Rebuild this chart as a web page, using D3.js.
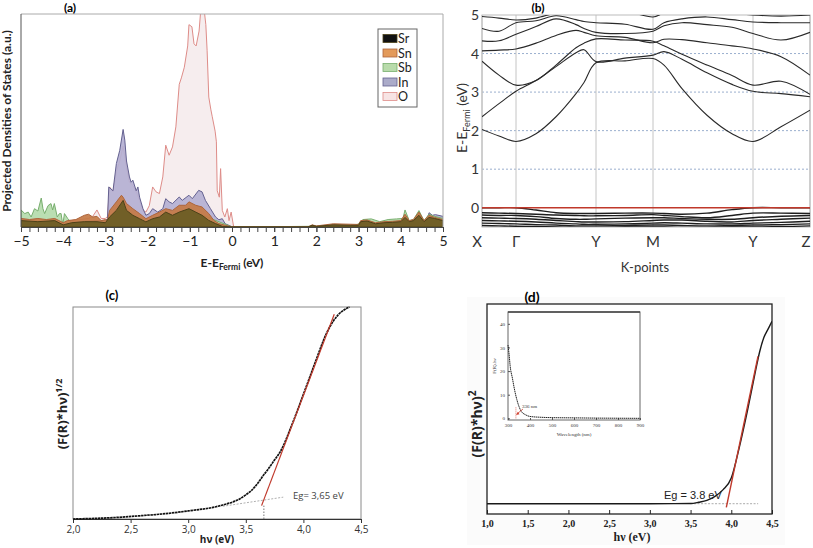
<!DOCTYPE html>
<html><head><meta charset="utf-8">
<script src="https://cdn.jsdelivr.net/npm/d3@7"></script>
<style>body{margin:0;background:#fff}svg{display:block}</style>
</head><body><svg id="c" width="813" height="548"></svg>
<script>
// ---------------- DATA ----------------
// (a) Projected DOS: [E - E_Fermi (eV), DOS (% of axis height)]
const dosO = [[-5,4],[-4.8,3.5],[-4.6,4],[-4.4,3],[-4.2,4],[-4.0,2.5],[-3.8,3],[-3.6,3.5],[-3.4,4],[-3.3,5],[-3.2,8],[-3.1,4],[-3.0,4],[-2.95,5],[-2.9,18.8],[-2.82,16.5],[-2.74,26],[-2.66,31],[-2.58,38],[-2.5,28],[-2.43,21],[-2.35,19.6],[-2.27,16.5],[-2.19,12.5],[-2.11,7.8],[-2.04,7],[-1.96,10],[-1.88,18.8],[-1.8,16.5],[-1.72,15.7],[-1.64,23.5],[-1.57,38.4],[-1.49,33.7],[-1.41,37.6],[-1.33,47],[-1.25,67],[-1.2,70],[-1.13,75],[-1.05,85],[-1.02,95],[-0.95,94],[-0.9,86],[-0.85,85],[-0.78,92],[-0.74,102],[-0.66,102],[-0.62,95],[-0.59,83],[-0.55,61],[-0.5,55],[-0.47,52],[-0.4,45],[-0.37,40],[-0.35,17],[-0.3,14],[-0.27,27.4],[-0.23,7.8],[-0.17,4.7],[-0.11,8.6],[-0.07,3],[-0.02,7],[0.04,0],[1.8,0],[1.9,0.8],[2.0,0.3],[3.0,0.5],[4.0,0.5],[5.0,0.5]];
const dosIn = [[-5,4],[-4.6,3],[-4.2,3],[-4.0,2],[-3.6,2.5],[-3.2,3],[-3.0,3],[-2.95,4],[-2.92,18.8],[-2.82,17],[-2.74,29.8],[-2.66,36],[-2.58,45.8],[-2.54,40.8],[-2.5,31],[-2.43,23.5],[-2.39,21],[-2.35,22],[-2.27,17],[-2.23,18.8],[-2.19,14],[-2.11,8.6],[-2.04,5.5],[-1.96,6.3],[-1.88,8.6],[-1.76,7],[-1.64,8.6],[-1.57,13.3],[-1.49,11.8],[-1.41,11],[-1.25,14.1],[-1.18,12.5],[-1.02,14.9],[-0.94,13.3],[-0.79,17.2],[-0.71,16.5],[-0.63,12.5],[-0.51,8.6],[-0.39,4.7],[-0.31,3.4],[-0.23,3.9],[-0.16,1.5],[-0.04,0.5],[0,0],[4.5,0],[4.6,2],[4.67,6.7],[4.75,5.5],[4.82,5.8],[5.0,5]];
const dosSb = [[-5,8],[-4.91,6.3],[-4.83,7],[-4.76,4.7],[-4.68,8.6],[-4.6,7.5],[-4.52,13.6],[-4.48,8.6],[-4.44,6.3],[-4.36,10],[-4.29,11],[-4.25,8],[-4.21,11],[-4.14,4.7],[-4.09,6.3],[-4.05,6.3],[-4.01,1],[-3.97,6.3],[-3.89,3.9],[-3.8,2],[-3.5,2.5],[-3.0,2],[-2.9,5],[-2.6,10],[-2.3,5],[-2.0,3],[-1.5,5],[-1,8],[-0.5,4],[0,0],[2.9,0.5],[3.0,1.5],[3.1,3.5],[3.3,3.8],[3.5,2.5],[3.7,3.5],[3.9,3.8],[4.05,4],[4.1,8],[4.2,3],[4.3,3.5],[4.43,7.7],[4.55,3],[4.67,6],[4.8,5],[5.0,4]];
const dosSn = [[-5,4],[-4.8,3.5],[-4.6,4],[-4.4,3.5],[-4.2,4],[-4.0,2],[-3.9,3],[-3.7,3.5],[-3.5,5.5],[-3.4,6],[-3.3,4.7],[-3.2,5],[-3.1,3],[-3.0,3.5],[-2.95,3],[-2.9,7.8],[-2.74,11.8],[-2.62,14.9],[-2.58,14],[-2.5,11],[-2.35,8.6],[-2.19,6.3],[-2.04,3.9],[-1.88,5.5],[-1.72,7],[-1.57,8.6],[-1.41,7.8],[-1.25,10.2],[-1.1,10.2],[-1.02,11.8],[-0.86,10.2],[-0.71,9.4],[-0.55,6.3],[-0.43,3.1],[-0.31,1.6],[-0.16,0.8],[0,0],[1.8,0],[1.9,1],[2.0,0.5],[2.4,1.5],[2.8,1.3],[3.0,1.2],[3.05,3],[3.2,3.3],[3.4,2],[3.6,2.5],[3.8,2.7],[4.0,3],[4.1,6],[4.2,3],[4.3,3.5],[4.43,7],[4.55,3],[4.67,5.5],[4.8,4.5],[5,3.5]];
const dosSr = [[-5,3],[-4.6,2.5],[-4.2,3],[-4.0,1],[-3.8,2],[-3.5,2.5],[-3.2,2.5],[-3.0,2],[-2.9,4.7],[-2.74,7.8],[-2.58,12.5],[-2.5,7.8],[-2.35,5.5],[-2.19,3.9],[-2.04,2.4],[-1.88,3.9],[-1.72,4.7],[-1.57,7],[-1.41,5.5],[-1.25,7],[-1.02,8.6],[-0.86,7],[-0.71,5.5],[-0.55,3.1],[-0.39,1.6],[-0.23,0.3],[0,0],[1.8,0],[1.9,0.8],[2.0,0.3],[2.4,1],[2.8,0.8],[3.0,0.8],[3.05,2.5],[3.2,2.8],[3.4,1.5],[3.6,2],[3.8,2.2],[4.0,2.5],[4.1,4.5],[4.2,2.5],[4.3,3],[4.43,5.5],[4.55,2.5],[4.67,4.5],[4.8,4],[5,3]];
const dosNames = ['Sr','Sn','Sb','In','O'];
const dosTicks = [-5,-4,-3,-2,-1,0,1,2,3,4,5];

// (b) Band structure: k-path distance and energies (eV)
const kLabels = ['X','\u0393','Y','M','Y','Z'];
const kLabelPos = [0,0.34,1.14,1.71,2.71,3.28];
const kGrid = [0,0.17,0.34,0.54,0.74,0.94,1.02,1.14,1.43,1.71,1.82,2.0,2.25,2.5,2.71,2.99,3.28];
const bandC1 = [2.03,1.86,1.72,1.92,2.36,2.96,3.25,3.76,3.81,3.87,3.7,3.09,2.4,1.92,1.72,2.1,2.53];
const bandC2 = [2.36,2.7,3.02,3.3,3.66,4.02,4.1,3.79,3.88,3.96,4.05,3.85,3.5,3.2,3.02,2.96,2.88];
const bandC3 = [3.8,3.44,3.18,3.3,3.7,4.15,4.27,4.38,4.35,4.32,4.2,3.98,3.7,3.43,3.18,3.28,2.94];
const bandC4 = [4.07,4.09,4.12,4.27,4.47,4.6,4.55,4.46,4.42,4.28,4.37,4.36,4.28,4.2,4.12,3.92,3.44];
const bandC5 = [4.33,4.33,4.5,4.7,4.9,4.75,4.65,4.55,4.52,4.58,4.72,4.8,4.75,4.68,4.52,4.35,4.55];
const bandC6 = [4.65,4.58,4.8,4.85,4.98,4.88,4.83,4.8,4.76,4.63,4.8,4.9,4.95,4.88,4.82,4.8,4.8];
const bandC7 = [4.96,4.92,4.87,4.92,5.05,5.1,5.1,5.1,5.1,4.95,5.05,5.1,5.1,5.05,5.0,4.97,5.0];
const bandV1 = [0,0,0,-0.06,-0.13,-0.15,-0.15,-0.15,-0.14,-0.14,-0.15,-0.17,-0.14,-0.05,0,0,0];
const bandV2 = [-0.13,-0.14,-0.15,-0.17,-0.19,-0.2,-0.21,-0.21,-0.2,-0.18,-0.2,-0.23,-0.26,-0.2,-0.14,-0.14,-0.15];
const bandV3 = [-0.19,-0.2,-0.2,-0.23,-0.28,-0.3,-0.3,-0.29,-0.27,-0.26,-0.26,-0.28,-0.3,-0.3,-0.26,-0.22,-0.2];
const bandV4 = [-0.26,-0.27,-0.28,-0.3,-0.33,-0.36,-0.37,-0.37,-0.36,-0.33,-0.32,-0.32,-0.35,-0.37,-0.33,-0.3,-0.27];
const bandV5 = [-0.33,-0.34,-0.35,-0.37,-0.4,-0.42,-0.43,-0.43,-0.42,-0.4,-0.39,-0.4,-0.42,-0.42,-0.4,-0.38,-0.35];
const bandV6 = [-0.4,-0.41,-0.42,-0.44,-0.45,-0.47,-0.47,-0.47,-0.46,-0.45,-0.45,-0.46,-0.47,-0.46,-0.45,-0.44,-0.42];
const bandV7 = [-0.46,-0.47,-0.48,-0.49,-0.5,-0.51,-0.51,-0.51,-0.5,-0.5,-0.5,-0.51,-0.51,-0.5,-0.5,-0.49,-0.47];
const bandTicks = [0,1,2,3,4,5];

// (c) Tauc plot, indirect
const hvC = [2.0,2.2,2.4,2.6,2.8,3.0,3.1,3.2,3.3,3.4,3.45,3.5,3.55,3.6,3.65,3.7,3.75,3.8,3.9,4.0,4.1,4.2,4.25,4.3,4.35,4.4];
const tauC = [0,0.003,0.008,0.016,0.025,0.038,0.045,0.053,0.066,0.083,0.096,0.114,0.135,0.166,0.204,0.24,0.279,0.318,0.444,0.588,0.735,0.875,0.925,0.962,0.985,1.0];
const fitC = [[3.637,0.063],[4.268,0.966]];
const baseC = [[3.30,0.060],[3.825,0.103]];
const egC = 3.657;
const ticksC = [2.0,2.5,3.0,3.5,4.0,4.5];

// (d) Tauc plot, direct
const hvD = [1.0,1.5,2.0,2.5,3.0,3.5,3.6,3.7,3.8,3.9,4.0,4.1,4.2,4.3,4.35,4.4,4.45,4.5];
const tauD = [0.049,0.049,0.049,0.049,0.049,0.05,0.056,0.065,0.084,0.116,0.171,0.32,0.495,0.686,0.775,0.84,0.879,0.918];
const fitD = [[3.939,0.032],[4.328,0.751]];
const baseD = [[3.5,0.049],[4.33,0.049]];
const ticksD = [1.0,1.5,2.0,2.5,3.0,3.5,4.0,4.5];
// inset
const insetWl = [300,305,310,320,330,340,350,360,380,400,450,500,600,700,800,900];
const insetF = [31,27,22,17,12,8,5,3,1.5,0.8,0.45,0.3,0.2,0.1,0.05,0];
const insetXTicks = [300,400,500,600,700,800,900];
const insetYTicks = [0,10,20,30,40];
const insetEdge = 336;

// ---------------- DRAW ----------------
const svg = d3.select('#c');
const defs = svg.append('defs');
const sans = 'Lato, "Open Sans", "Liberation Sans", sans-serif';

// ===== Panel (a) =====
const xA = d3.scaleLinear().domain([-5,5]).range([21,443]);
const yA = d3.scaleLinear().domain([0,100]).range([227,14]);
defs.append('clipPath').attr('id','clipA').append('rect')
  .attr('x',21).attr('y',14).attr('width',422).attr('height',213);
const dosColors = {
  O:{fill:'#f6edee',stroke:'#de8c88',legend:'#f7e4e4'},
  In:{fill:'#b4b0d3',stroke:'#646190',legend:'#ababc9'},
  Sb:{fill:'#b4dbab',stroke:'#78ae6e',legend:'#b8dbab'},
  Sn:{fill:'#c47a45',stroke:'#ad653c',legend:'#e39a5a'},
  Sr:{fill:'#6a5c24',stroke:'#4d4219',legend:'#111111'}
};
const dosData = {O:dosO, In:dosIn, Sb:dosSb, Sn:dosSn, Sr:dosSr};
const areaA = d3.area().x(d=>xA(d[0])).y0(yA(0)).y1(d=>yA(d[1]));
const gA = svg.append('g').attr('clip-path','url(#clipA)');
['O','In','Sb','Sn','Sr'].forEach(n=>{
  gA.append('path').attr('d',areaA(dosData[n]))
    .attr('fill',dosColors[n].fill).attr('fill-opacity',n==='O'?1:0.92)
    .attr('stroke',dosColors[n].stroke).attr('stroke-width',1);
});
// frame
svg.append('line').attr('x1',21).attr('x2',443).attr('y1',14).attr('y2',14).attr('stroke','#aaa');
svg.append('line').attr('x1',443).attr('x2',443).attr('y1',14).attr('y2',227).attr('stroke','#aaa');
svg.append('line').attr('x1',21).attr('x2',21).attr('y1',14).attr('y2',227).attr('stroke','#555');
const axA = svg.append('g').attr('transform','translate(0,227)')
  .call(d3.axisBottom(xA).tickValues(dosTicks).tickSize(5).tickPadding(4));
axA.select('.domain').attr('stroke','#444');
axA.selectAll('.tick line').attr('stroke','#444');
axA.selectAll('text').attr('font-family',sans).attr('font-size',14).attr('fill','#222');
svg.append('g').attr('transform','translate(0,227)')
  .call(d3.axisBottom(xA).tickValues(d3.range(-50,51,2).map(v=>v/10)).tickSize(5).tickFormat(''))
  .call(g=>{g.select('.domain').remove(); g.selectAll('line').attr('stroke','#444');});
// titles
const tA = svg.append('text').attr('x',232).attr('y',267).attr('text-anchor','middle')
  .attr('font-family',sans).attr('font-weight','bold').attr('font-size',12).attr('fill','#222');
tA.append('tspan').text('E-E');
tA.append('tspan').attr('font-size',8.5).attr('dy',3).text('Fermi');
tA.append('tspan').attr('dy',-3).text(' (eV)');
svg.append('text').attr('transform','translate(11,121) rotate(-90)').attr('text-anchor','middle')
  .attr('font-family',sans).attr('font-weight','bold').attr('font-size',12).attr('fill','#222')
  .text('Projected Densities of States (a.u.)');
svg.append('text').attr('x',70).attr('y',12).attr('text-anchor','middle')
  .attr('font-family',sans).attr('font-weight','bold').attr('font-size',12).text('(a)');
// legend
const lg = svg.append('g');
lg.append('rect').attr('x',378).attr('y',29).attr('width',39).attr('height',78)
  .attr('fill','#fff').attr('stroke','#666');
dosNames.forEach((n,i)=>{
  const y = 34.5 + i*14.5;
  lg.append('rect').attr('x',383).attr('y',y).attr('width',14).attr('height',8)
    .attr('fill',dosColors[n].legend).attr('stroke',dosColors[n].stroke).attr('stroke-width',0.8);
  lg.append('text').attr('x',398).attr('y',y+8.5).attr('font-family',sans).attr('font-size',12.5)
    .attr('fill','#222').text(n);
});

// ===== Panel (b) =====
const xB = d3.scaleLinear().domain([0,3.28]).range([482,810]);
const yB = d3.scaleLinear().domain([-0.5,5]).range([227,15]);
defs.append('clipPath').attr('id','clipB').append('rect')
  .attr('x',482).attr('y',15).attr('width',328).attr('height',212);
const gB = svg.append('g');
[1,2,3,4].forEach(v=>{
  gB.append('line').attr('x1',482).attr('x2',810).attr('y1',yB(v)).attr('y2',yB(v))
    .attr('stroke','#8fa6c8').attr('stroke-dasharray','2,2').attr('stroke-width',0.9);
});
kLabelPos.forEach(k=>{
  gB.append('line').attr('x1',xB(k)).attr('x2',xB(k)).attr('y1',15).attr('y2',227)
    .attr('stroke','#c4c4c4').attr('stroke-width',1);
});
gB.append('rect').attr('x',482).attr('y',15).attr('width',328).attr('height',212)
  .attr('fill','none').attr('stroke','#bbb');
const bandLine = d3.line().x((d,i)=>xB(kGrid[i])).y(d=>yB(d)).curve(d3.curveCatmullRom.alpha(0.5));
const gBands = svg.append('g').attr('clip-path','url(#clipB)');
[bandC1,bandC2,bandC3,bandC4,bandC5,bandC6,bandC7].forEach(b=>{
  gBands.append('path').attr('d',bandLine(b)).attr('fill','none').attr('stroke','#2a2a2a').attr('stroke-width',1.1);
});
[bandV1,bandV2,bandV3,bandV4,bandV5,bandV6,bandV7].forEach(b=>{
  gBands.append('path').attr('d',bandLine(b)).attr('fill','none').attr('stroke','#1e1e1e').attr('stroke-width',1.4);
});
gBands.append('line').attr('x1',482).attr('x2',810).attr('y1',yB(0)).attr('y2',yB(0))
  .attr('stroke','#c0392b').attr('stroke-width',1.3);
bandTicks.forEach(v=>{
  svg.append('text').attr('x',475).attr('y',yB(v)+5).attr('text-anchor','middle')
    .attr('font-family',sans).attr('font-size',14).attr('fill','#333').text(v);
});
kLabels.forEach((l,i)=>{
  const x = i===0 ? 477 : (i===kLabels.length-1 ? 806 : xB(kLabelPos[i]));
  svg.append('text').attr('x',x).attr('y',247).attr('text-anchor','middle')
    .attr('font-family',sans).attr('font-size',15).attr('fill','#333').text(l);
});
svg.append('text').attr('x',645).attr('y',272).attr('text-anchor','middle')
  .attr('font-family',sans).attr('font-size',13).attr('fill','#333').text('K-points');
const tB = svg.append('text').attr('transform','translate(467,118) rotate(-90)').attr('text-anchor','middle')
  .attr('font-family',sans).attr('font-size',14).attr('fill','#333');
tB.append('tspan').text('E-E');
tB.append('tspan').attr('font-size',9).attr('dy',2.5).text('Fermi');
tB.append('tspan').attr('dy',-2.5).text(' (eV)');
svg.append('text').attr('x',538).attr('y',12).attr('text-anchor','middle')
  .attr('font-family',sans).attr('font-weight','bold').attr('font-size',12).text('(b)');

// ===== Panel (c) =====
const xC = d3.scaleLinear().domain([2.0,4.5]).range([73,361]);
const yC = d3.scaleLinear().domain([0,1]).range([519,307]);
const fmtComma = d=>d3.format('.1f')(d).replace('.',',');
svg.append('rect').attr('x',73).attr('y',307).attr('width',288).attr('height',212)
  .attr('fill','none').attr('stroke','#8a8a8a').attr('stroke-width',1);
const axC = svg.append('g').attr('transform','translate(0,519)')
  .call(d3.axisBottom(xC).tickValues(ticksC).tickFormat(fmtComma).tickSize(4).tickPadding(3));
axC.select('.domain').attr('stroke','#333');
axC.selectAll('.tick line').attr('stroke','#333');
axC.selectAll('text').attr('font-family','"Open Sans", sans-serif').attr('font-size',10).attr('fill','#333');
const lineC = d3.line().x(d=>xC(d[0])).y(d=>yC(d[1]));
svg.append('path').attr('d',lineC(baseC)).attr('fill','none').attr('stroke','#b0b0b0')
  .attr('stroke-width',1).attr('stroke-dasharray','2,1.5');
svg.append('path').attr('d',lineC([[egC,0],[egC,0.063]])).attr('fill','none').attr('stroke','#777')
  .attr('stroke-width',1).attr('stroke-dasharray','1.5,1.5');
svg.append('path').attr('d',d3.line().x((d,i)=>xC(hvC[i])).y(d=>yC(d)).curve(d3.curveMonotoneX)(tauC))
  .attr('fill','none').attr('stroke','#111').attr('stroke-width',1.7).attr('stroke-dasharray','2.5,0.6');
svg.append('path').attr('d',lineC(fitC)).attr('fill','none').attr('stroke','#c0392b').attr('stroke-width',1.2);
svg.append('text').attr('x',293).attr('y',499).attr('font-family','"Open Sans", sans-serif')
  .attr('font-size',9.5).attr('fill','#444').text('Eg= 3,65 eV');
svg.append('text').attr('x',217).attr('y',543).attr('text-anchor','middle')
  .attr('font-family','"Open Sans", sans-serif').attr('font-weight','bold').attr('font-size',10).attr('fill','#222')
  .text('h\u03BD (eV)');
const tCy = svg.append('text').attr('transform','translate(67,414) rotate(-90)').attr('text-anchor','middle')
  .attr('font-family','"Open Sans", sans-serif').attr('font-weight','bold').attr('font-size',13).attr('fill','#222');
tCy.append('tspan').text('(F(R)*h\u03BD)');
tCy.append('tspan').attr('font-size',9).attr('dy',-5).text('1/2');
svg.append('text').attr('x',112).attr('y',300).attr('text-anchor','middle')
  .attr('font-family',sans).attr('font-weight','bold').attr('font-size',13).text('(c)');

// ===== Panel (d) =====
svg.append('rect').attr('x',467).attr('y',297).attr('width',318).attr('height',248).attr('fill','#fbfbfb');
const xD = d3.scaleLinear().domain([1.0,4.5]).range([487,772]);
const yD = d3.scaleLinear().domain([0,1]).range([514,304]);
defs.append('clipPath').attr('id','clipD').append('rect')
  .attr('x',487).attr('y',304).attr('width',285).attr('height',210);
svg.append('rect').attr('x',487).attr('y',304).attr('width',285).attr('height',210)
  .attr('fill','#fff').attr('stroke','#222').attr('stroke-width',1.3);
const axD = svg.append('g').attr('transform','translate(0,514)')
  .call(d3.axisBottom(xD).tickValues(ticksD).tickFormat(fmtComma).tickSize(-4).tickPadding(6));
axD.select('.domain').remove();
axD.selectAll('.tick line').attr('stroke','#222');
axD.selectAll('text').attr('font-family','"Liberation Serif", serif').attr('font-weight','bold')
  .attr('font-size',10).attr('fill','#222');
const lineD = d3.line().x(d=>xD(d[0])).y(d=>yD(d[1]));
const gD = svg.append('g').attr('clip-path','url(#clipD)');
gD.append('path').attr('d',lineD(baseD)).attr('fill','none').attr('stroke','#aaa')
  .attr('stroke-width',1).attr('stroke-dasharray','2,1.5');
gD.append('path').attr('d',d3.line().x((d,i)=>xD(hvD[i])).y(d=>yD(d)).curve(d3.curveMonotoneX)(tauD))
  .attr('fill','none').attr('stroke','#1a1a1a').attr('stroke-width',1.4);
gD.append('path').attr('d',lineD(fitD)).attr('fill','none').attr('stroke','#c0392b').attr('stroke-width',1.4);
svg.append('text').attr('x',664).attr('y',499).attr('font-family','"Liberation Sans", Arial, sans-serif')
  .attr('font-size',11).attr('fill','#222').text('Eg = 3.8 eV');
svg.append('text').attr('x',632).attr('y',541).attr('text-anchor','middle')
  .attr('font-family','"Liberation Serif", serif').attr('font-weight','bold').attr('font-size',12).attr('fill','#222')
  .text('h\u03BD (eV)');
const tDy = svg.append('text').attr('transform','translate(482,424) rotate(-90)').attr('text-anchor','middle')
  .attr('font-family','"Open Sans", sans-serif').attr('font-weight','bold').attr('font-size',14).attr('fill','#222');
tDy.append('tspan').text('(F(R)*h\u03BD)');
tDy.append('tspan').attr('font-size',10).attr('dy',-6).text('2');
svg.append('text').attr('x',532).attr('y',302).attr('text-anchor','middle')
  .attr('font-family',sans).attr('font-weight','bold').attr('font-size',14).text('(d)');

// inset
const xI = d3.scaleLinear().domain([300,900]).range([508,640]);
const yI = d3.scaleLinear().domain([-0.7,45]).range([420,312]);
svg.append('rect').attr('x',508).attr('y',312).attr('width',132).attr('height',108)
  .attr('fill','#fff').attr('stroke','#666').attr('stroke-width',1);
svg.append('line').attr('x1',508).attr('x2',640).attr('y1',312).attr('y2',312).attr('stroke','#444').attr('stroke-width',1.3);
const axIx = svg.append('g').attr('transform','translate(0,420)')
  .call(d3.axisBottom(xI).tickValues(insetXTicks).tickSize(-2).tickPadding(3));
axIx.select('.domain').remove();
axIx.selectAll('line').attr('stroke','#555');
axIx.selectAll('text').attr('font-family','"Liberation Serif", serif').attr('font-size',5).attr('fill','#333');
const axIy = svg.append('g').attr('transform','translate(508,0)')
  .call(d3.axisLeft(yI).tickValues(insetYTicks).tickSize(-2).tickPadding(3));
axIy.select('.domain').remove();
axIy.selectAll('line').attr('stroke','#555');
axIy.selectAll('text').attr('font-family','"Liberation Serif", serif').attr('font-size',5).attr('fill','#333');
svg.append('path').attr('d',d3.line().x((d,i)=>xI(insetWl[i])).y(d=>yI(d)).curve(d3.curveMonotoneX)(insetF))
  .attr('fill','none').attr('stroke','#222').attr('stroke-width',1).attr('stroke-dasharray','1.5,0.5');
svg.append('line').attr('x1',xI(insetEdge)).attr('x2',xI(insetEdge)).attr('y1',yI(0)).attr('y2',yI(5))
  .attr('stroke','#d04030').attr('stroke-width',0.7).attr('stroke-dasharray','1,1');
svg.append('line').attr('x1',523).attr('x2',517.5).attr('y1',409).attr('y2',413.5)
  .attr('stroke','#d04030').attr('stroke-width',0.8);
svg.append('path').attr('d','M516,415 L519.5,414.2 L517.8,411.8 Z').attr('fill','#d04030');
svg.append('text').attr('x',522).attr('y',408).attr('font-family','"Liberation Serif", serif')
  .attr('font-size',5).attr('fill','#333').text('336 nm');
svg.append('text').attr('x',574).attr('y',436).attr('text-anchor','middle')
  .attr('font-family','"Liberation Serif", serif').attr('font-size',5).attr('fill','#333').text('Wavelength (nm)');
svg.append('text').attr('transform','translate(496,366) rotate(-90)').attr('text-anchor','middle')
  .attr('font-family','"Liberation Serif", serif').attr('font-size',5).attr('fill','#333').text('F(R).h\u03BD');
</script></body></html>
